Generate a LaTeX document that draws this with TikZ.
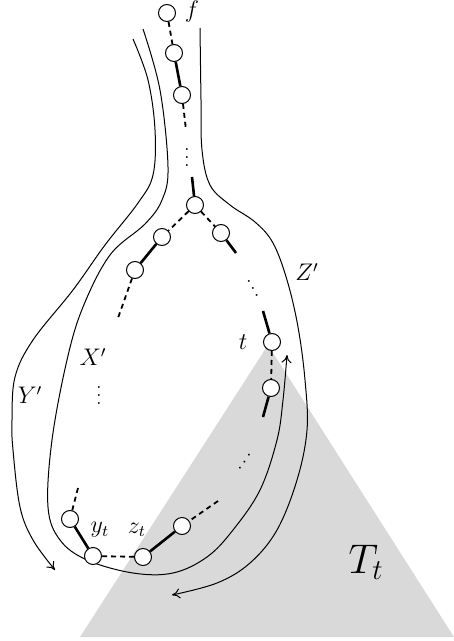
\documentclass[tikz,border=0pt]{standalone}
\usepackage{amsmath}
\usepackage{tikz}
\usetikzlibrary{arrows.meta}

\begin{document}
\begin{tikzpicture}[x=0.5pt, y=-0.5pt,
	main/.style = {draw, circle, fill=white, inner sep=0pt, minimum size=8.5pt, line width=0.5pt},
	bold/.style = {line width=1.3pt},
	gap/.style = {line width=0.9pt, dash pattern=on 2.5pt off 2pt},
	wire/.style = {line width=0.5pt, -{To[length=4pt,width=5pt]}},
	lbl/.style = {font=\fontsize{12}{14}\selectfont},
	dots/.style = {font=\small, inner sep=0pt}]
	\useasboundingbox (0,0) rectangle (454,641);
	\fill[gray!30] (268,345) -- (454,637) -- (80,637) -- cycle;
	% walks
	\draw[wire] plot[smooth, tension=0.6] coordinates {(133,39) (148,80) (155,130) (153,175) (138,203) (105,245) (73,290) (33,340) (15,377) (12,420) (13,450) (20,507) (33,540) (55,570)};
	\draw[wire] plot[smooth, tension=0.6] coordinates {(143,29) (160,90) (168,167) (162,200) (145,224) (110,255) (83,307) (67,360) (52,440) (48,507) (60,540) (87,560) (133,573) (173,573) (207,557) (233,530) (260,490) (277,440) (283,400) (287,355)};
	\draw[wire] plot[smooth, tension=0.6] coordinates {(200,28) (201,100) (202,150) (210,185) (230,205) (255,222) (273,243) (287,280) (298,327) (305,380) (307,430) (297,480) (277,530) (250,563) (217,583) (172,595)};
	% vertices
	\node[main] (F) at (167,13){};
	\node[main] (A) at (174,53){};
	\node[main] (B) at (182,95){};
	\node[main] (R) at (195,205){};
	\node[main] (C) at (162,237){};
	\node[main] (D) at (135,270){};
	\node[main] (E) at (221,233){};
	\node[main] (T) at (272,342){};
	\node[main] (G) at (271,388){};
	\node[main] (H) at (182,526){};
	\node[main] (Z) at (143,557){};
	\node[main] (Y) at (93,556){};
	\node[main] (K) at (70,519){};
	\coordinate (b1) at (186,130);
	\coordinate (r1) at (192,177);
	\coordinate (d1) at (118,318);
	\coordinate (e1) at (236,253);
	\coordinate (t1) at (263,311);
	\coordinate (g1) at (263,417);
	\coordinate (h1) at (218,501);
	\coordinate (k1) at (78,488);
	\draw[gap] (F) -- (A);
	\draw[bold] (A) -- (B);
	\draw[gap] (B) -- (b1);
	\draw[bold] (r1) -- (R);
	\draw[gap] (R) -- (C);
	\draw[bold] (C) -- (D);
	\draw[gap] (D) -- (d1);
	\draw[gap] (R) -- (E);
	\draw[bold] (E) -- (e1);
	\draw[bold] (t1) -- (T);
	\draw[gap] (T) -- (G);
	\draw[bold] (G) -- (g1);
	\draw[gap] (h1) -- (H);
	\draw[bold] (H) -- (Z);
	\draw[gap] (Z) -- (Y);
	\draw[bold] (Y) -- (K);
	\draw[gap] (K) -- (k1);
	% dots
	\node[dots] (v1) at (187,152){$\vdots$};
	\node[dots] (v2) at (99,390){$\vdots$};
	\node[dots, rotate=28] (v3) at (250,283){$\vdots$};
	\node[dots, rotate=-34] (v4) at (248,457){$\vdots$};
	% labels
	\node[lbl] (lf) at (192,12){$f$};
	\node[lbl] (lt) at (243,342){$t$};
	\node[lbl] (lx) at (93,357){$X'$};
	\node[lbl] (ly) at (30,395){$Y'$};
	\node[lbl] (lz) at (307,272){$Z'$};
	\node[lbl] (lyt) at (100,530){$y_t$};
	\node[lbl] (lzt) at (137,530){$z_t$};
	\node[font=\fontsize{20}{22}\selectfont] (lT) at (366,562){$T_t$};
\end{tikzpicture}
\end{document}
